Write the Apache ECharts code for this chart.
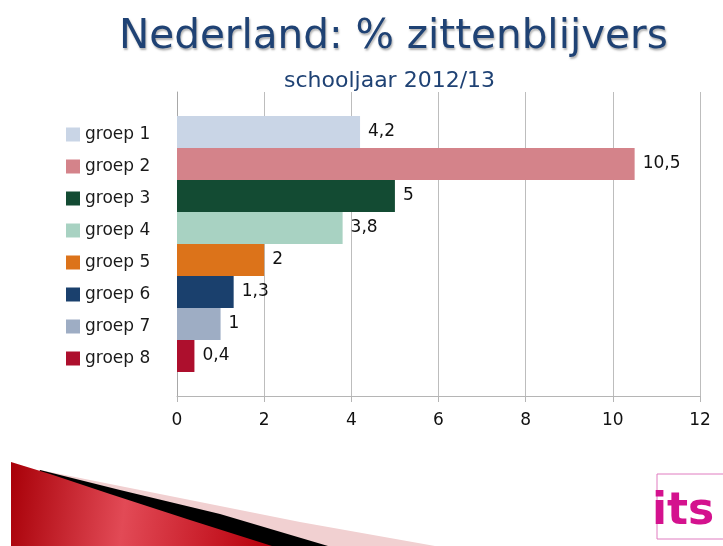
<!DOCTYPE html>
<html>
<head>
<meta charset="utf-8">
<script src="https://cdn.jsdelivr.net/npm/echarts@6/dist/echarts.min.js"></script>
<style>
  html, body { margin: 0; padding: 0; background: #fff; }
  #chart { width: 723px; height: 546px; }
</style>
</head>
<body>
<div id="chart"></div>
<script>
// data
const groepen = ['groep 1', 'groep 2', 'groep 3', 'groep 4', 'groep 5', 'groep 6', 'groep 7', 'groep 8'];
const zittenblijvers = [4.2, 10.5, 5, 3.8, 2, 1.3, 1, 0.4];
const kleuren = ['#c9d5e6', '#d4838a', '#134b33', '#a8d2c2', '#dc731a', '#1a406d', '#9eadc4', '#ad0f2d'];
const schooljaar = ['2012/13'];

const font = 'DejaVu Sans';
const chart = echarts.init(document.getElementById('chart'));

// one series per groep (same as the original spreadsheet chart)
const series = groepen.map((naam, i) => ({
  name: naam,
  type: 'bar',
  data: [zittenblijvers[i]],
  itemStyle: { color: kleuren[i] },
  barGap: '0%',
  barCategoryGap: '15.8%',
  label: {
    show: true,
    position: 'right',
    distance: 8,
    fontFamily: font,
    fontSize: 17,
    color: '#111',
    formatter: p => String(p.value).replace('.', ',')
  }
}));

const option = {
  animation: false,
  backgroundColor: '#fff',
  title: [
    {
      text: 'Nederland: % zittenblijvers',
      left: 114,
      top: 12,
      textStyle: {
        fontFamily: font, fontSize: 40.5, fontWeight: 'normal', color: '#1f4274',
        textShadowColor: 'rgba(0,0,0,0.3)', textShadowBlur: 2, textShadowOffsetX: 1, textShadowOffsetY: 2
      }
    },
    {
      text: 'schooljaar ' + schooljaar[0],
      left: 279,
      top: 65,
      textStyle: { fontFamily: font, fontSize: 22, fontWeight: 'normal', color: '#1f4274' }
    }
  ],
  legend: {
    orient: 'vertical',
    left: 66,
    top: 126,
    padding: 0,
    itemWidth: 14,
    itemHeight: 14,
    itemGap: 15,
    icon: 'rect',
    selectedMode: false,
    data: groepen,
    textStyle: { fontFamily: font, fontSize: 17, color: '#1a1a1a' }
  },
  grid: { left: 177, right: 23, top: 92, bottom: 150 },
  xAxis: {
    type: 'value',
    min: 0,
    max: 12,
    interval: 2,
    axisLine: { show: true, lineStyle: { color: '#b5b5b5', width: 1 } },
    axisTick: { show: true, length: 6, lineStyle: { color: '#b5b5b5' } },
    splitLine: { show: true, lineStyle: { color: '#bdbdbd', width: 1 } },
    axisLabel: { fontFamily: font, fontSize: 17, color: '#111', margin: 16 }
  },
  yAxis: {
    type: 'category',
    data: schooljaar,
    inverse: true,
    axisLine: { show: true, lineStyle: { color: '#a8a8a8' } },
    axisTick: { show: false },
    axisLabel: { show: false }
  },
  series: series,
  graphic: [
    // decoratie linksonder
    { type: 'polygon', shape: { points: [[40, 470], [150, 492], [300, 522], [435, 546], [11, 546]] }, style: { fill: '#f1d0d1' }, silent: true },
    { type: 'polygon', shape: { points: [[40, 470], [120, 490], [220, 514], [328, 546], [11, 546]] }, style: { fill: '#000' }, silent: true },
    {
      type: 'polygon',
      shape: { points: [[11, 462], [50, 474], [110, 494], [190, 520], [272, 546], [11, 546]] },
      style: {
        fill: new echarts.graphic.LinearGradient(0, 0, 1, 0.4, [
          { offset: 0, color: '#a80008' },
          { offset: 0.45, color: '#e24a56' },
          { offset: 1, color: '#b8000c' }
        ])
      },
      silent: true
    },
    // its logo
    { type: 'rect', shape: { x: 657, y: 474, width: 70, height: 65 }, style: { fill: 'none', stroke: '#e07cc0', lineWidth: 1 }, silent: true },
    {
      type: 'text', left: 652, top: 491, silent: true,
      style: { text: 'its', fontFamily: font, fontSize: 44, fontWeight: 'bold', fill: '#d4128e' }
    }
  ]
};

chart.setOption(option);
</script>
</body>
</html>
